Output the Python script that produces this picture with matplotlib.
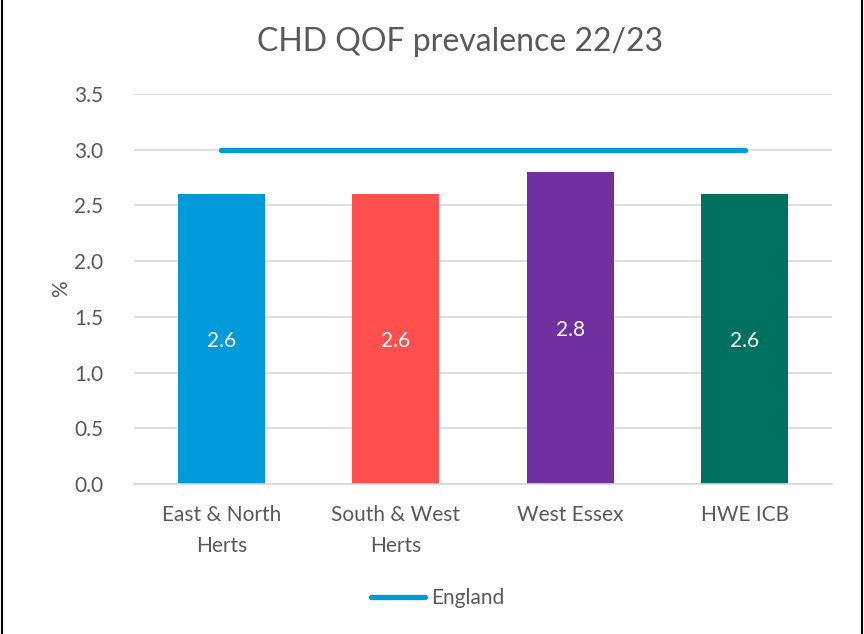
import matplotlib
matplotlib.use("Agg")
import matplotlib.pyplot as plt
from matplotlib.lines import Line2D

categories = ["East & North\nHerts", "South & West\nHerts", "West Essex", "HWE ICB"]
prevalence = [2.6, 2.6, 2.8, 2.6]
england = [3.0, 3.0, 3.0, 3.0]
bar_colors = ["#009ADA", "#FF4F4F", "#7030A0", "#00715F"]
line_color = "#009ADA"
txt = "#595959"

plt.rcParams["font.family"] = ["Lato", "DejaVu Sans"]

fig = plt.figure(figsize=(8.64, 6.34), dpi=100)
ax = fig.add_axes([134 / 864, 1 - 484 / 634, 698 / 864, 390 / 634])

x = list(range(len(categories)))
ax.bar(x, prevalence, width=0.5, color=bar_colors, zorder=2)
for xi, v in zip(x, prevalence):
    ax.text(xi, v / 2 - 0.02, f"{v:.1f}", color="white", ha="center", va="center", fontsize=15)

ax.plot(x, england, color=line_color, linewidth=3.8, solid_capstyle="round", zorder=3)

ax.set_xlim(-0.5, 3.5)
ax.set_ylim(0, 3.5)
ax.set_yticks([0, 0.5, 1.0, 1.5, 2.0, 2.5, 3.0, 3.5])
ax.set_yticklabels([f"{t:.1f}" for t in ax.get_yticks()])
ax.set_xticks(x)
ax.set_xticklabels(categories, linespacing=1.7)
ax.tick_params(axis="both", length=0, labelsize=15, labelcolor=txt)
ax.tick_params(axis="y", pad=22)
ax.tick_params(axis="x", pad=15)
ax.grid(axis="y", color="#D9D9D9", linewidth=1.2, zorder=0)
ax.set_axisbelow(True)
for s in ["top", "right", "left"]:
    ax.spines[s].set_visible(False)
ax.spines["bottom"].set_color("#D9D9D9")
ax.spines["bottom"].set_linewidth(1.2)

ax.set_ylabel("%", fontsize=15, color=txt, labelpad=2)
fig.text(460 / 864, 1 - 42 / 634, "CHD QOF prevalence 22/23", ha="center", va="center",
         fontsize=23, color=txt)

handle = Line2D([], [], color=line_color, linewidth=3.8, solid_capstyle="round")
fig.legend([handle], ["England"], loc="center", bbox_to_anchor=(438 / 864, 1 - 598 / 634),
           frameon=False, fontsize=15, labelcolor=txt, handlelength=2.6, handletextpad=0.3)

# outer border
fig.add_artist(Line2D([0.002, 0.002], [0, 1], color="black", linewidth=1.5, transform=fig.transFigure))
fig.add_artist(Line2D([0.998, 0.998], [0, 1], color="black", linewidth=1.5, transform=fig.transFigure))

fig.savefig("out.png", dpi=100)
